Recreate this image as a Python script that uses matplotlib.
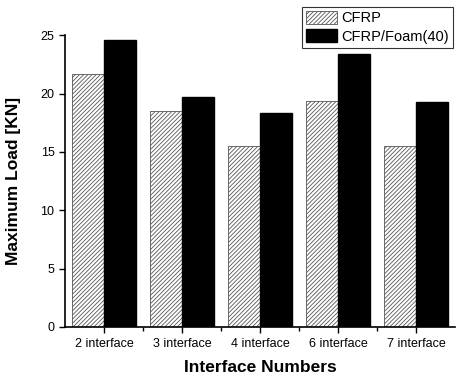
import matplotlib.pyplot as plt
import numpy as np

plt.rcParams['font.family'] = ['Liberation Sans', 'DejaVu Sans']
plt.rcParams['hatch.linewidth'] = 0.6
plt.rcParams['hatch.color'] = '#555555'

# Data
categories = ["2 interface", "3 interface", "4 interface", "6 interface", "7 interface"]
cfrp = [21.7, 18.5, 15.5, 19.4, 15.5]
cfrp_foam = [24.6, 19.7, 18.3, 23.4, 19.3]

x = np.arange(len(categories))
w = 0.41

fig = plt.figure(figsize=(4.57, 3.78), dpi=100)
ax = fig.add_axes([0.142, 0.135, 0.854, 0.772])

ax.bar(x - w / 2, cfrp, w, color='white', edgecolor='#555555', hatch='////////',
       linewidth=0.6, label="CFRP")
ax.bar(x + w / 2, cfrp_foam, w, color='black', edgecolor='black', label="CFRP/Foam(40)")

ax.set_xlim(-0.5, 4.5)
ax.set_ylim(0, 25)
ax.set_yticks([0, 5, 10, 15, 20, 25])
ax.set_xticks(x)
ax.set_xticklabels(categories, fontsize=9)
ax.set_xticks(x[:-1] + 0.5, minor=True)
ax.tick_params(axis='y', labelsize=9, length=4, width=1)
ax.tick_params(axis='x', which='major', length=4, width=1, pad=4)
ax.tick_params(axis='x', which='minor', length=3, width=1)

for s in ['top', 'right']:
    ax.spines[s].set_visible(False)
ax.spines['left'].set_linewidth(1.2)
ax.spines['bottom'].set_linewidth(1.2)

ax.set_xlabel("Interface Numbers", fontsize=12.5, fontweight='bold', labelpad=7)
ax.set_ylabel("Maximum Load [KN]", fontsize=12.5, fontweight='bold', labelpad=14)

leg = ax.legend(loc='upper right', bbox_to_anchor=(0.995, 1.098), fontsize=10.5,
                frameon=True, fancybox=False, edgecolor='black', handlelength=2.1,
                handleheight=1.0, borderpad=0.3, labelspacing=0.25,
                handletextpad=0.3, borderaxespad=0)
leg.get_frame().set_linewidth(0.8)

fig.savefig("out.png", dpi=100)
